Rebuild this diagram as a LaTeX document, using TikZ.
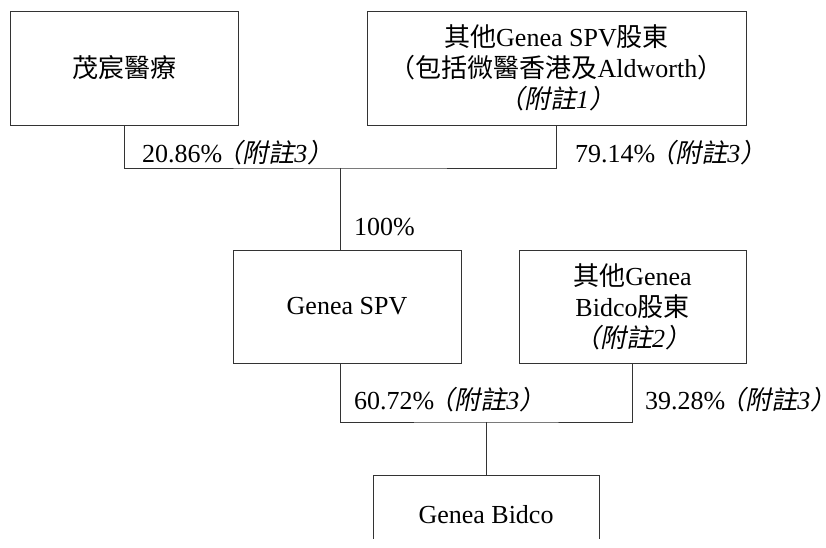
\documentclass[tikz,border=0pt]{standalone}
\usepackage{fontspec}
\setmainfont{Liberation Serif}
\newfontfamily\cjk{Noto Sans CJK TC}
\newfontfamily\cjkit[FakeSlant=0.2]{Noto Sans CJK TC}
\usetikzlibrary{positioning}
\newcommand{\zh}[1]{{\cjk #1}}
\newcommand{\fn}[1]{{\cjkit （附註}\textit{#1}{\cjkit ）}}
\newcommand{\share}[1]{#1\%\kern-6pt\fn{3}\kern-12pt}

\tikzset{
  entity/.style={draw=black!80, line width=0.9pt, align=center, inner sep=0pt,
    font=\fontsize{26}{31}\selectfont},
  pct/.style={anchor=west, inner sep=0pt, font=\fontsize{26}{31}\selectfont},
  link/.style={draw=black!80, line width=0.9pt}
}

\begin{document}
\begin{tikzpicture}[x=1pt,y=1pt]
\useasboundingbox (0,0) rectangle (826,547);
\clip (0,9) rectangle (826,547);

% holders
\node[entity, minimum width=228pt, minimum height=114pt] (mao) at (124,479) {\zh{茂宸醫療}};
\node[entity, minimum width=379pt, minimum height=114pt] (spvholders) at (556.5,479)
  {\zh{其他}Genea SPV\zh{股東}\\\zh{（包括微醫香港及}Aldworth\zh{）}\\\fn{1}};

% companies
\node[entity, minimum width=228pt, minimum height=113pt] (spv) at (347,240.5) {Genea SPV};
\node[entity, minimum width=227pt, minimum height=113pt] (bidholders) at (632.5,240.5)
  {\zh{其他}Genea\\Bidco\zh{股東}\\\fn{2}};
\node[entity, minimum width=226pt, minimum height=80pt] (bidco) at (486,32) {Genea Bidco};

\coordinate (j1) at (340,379);
\coordinate (j2) at (486,125);

\draw[link] (mao.south) |- (j1) -| (spvholders.south);
\draw[link] (j1) -- (spv.north -| j1);
\draw[link] (spv.south -| j1) |- (j2) -| (bidholders.south);
\draw[link] (j2) -- (bidco.north);

% shares
\node[pct] (p1) at (142,394) {\share{20.86}};
\node[pct] (p2) at (575,394) {\share{79.14}};
\node[pct] (p3) at (354,320) {100\%};
\node[pct] (p4) at (354,147) {\share{60.72}};
\node[pct] (p5) at (645,147) {\share{39.28}};
\end{tikzpicture}
\end{document}
